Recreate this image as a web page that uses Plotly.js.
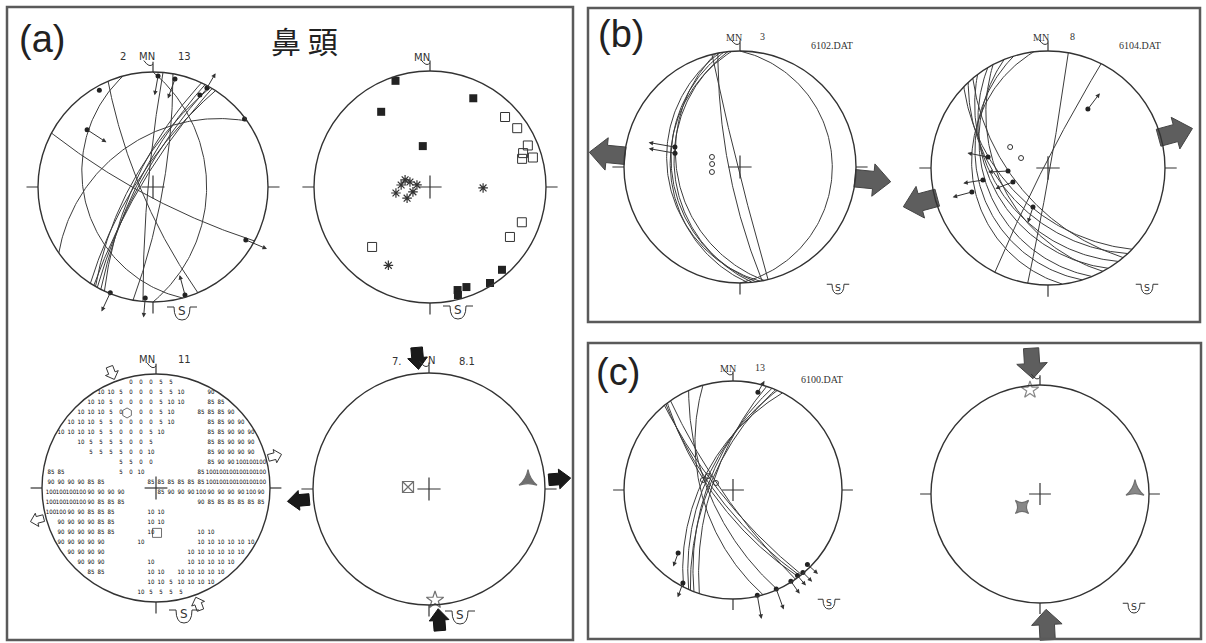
<!DOCTYPE html>
<html><head><meta charset="utf-8">
<script src="https://cdn.plot.ly/plotly-3.0.1.min.js"></script>
<style>html,body{margin:0;padding:0;background:#fff}#chart{width:1206px;height:643px}</style>
</head><body><div id="chart"></div>
<script>
// ================= DATA =================
// (a) top-left: fault planes (strike, right-hand rule) and dips
const a1Strike = [118, 157, 165, 0, 235, 205, 207, 209, 211, 213, 210, 185, 10];
const a1Dip    = [80, 78, 28, 40, 45, 72, 75, 77, 79, 74, 70, 85, 80];
// striae on the planes (trend / plunge) with slip arrows (azimuth, length)
const a1LinTrend  = [331, 2.6, 11.5, 28.6, 27, 53.4, 311, 119.7, 202, 184, 163.5];
const a1LinPlunge = [2.2, 2, 2.4, 1.2, 6.2, 0.5, 15.6, 4.2, 0.5, 1.9, 1.2];
const a1ArrowAz   = [0, 190, 200, 30, 0, 0, 123, 113, 205, 185, 345];
const a1ArrowLen  = [0, 0.17, 0.18, 0.15, 0, 0, 0.2, 0.2, 0.18, 0.17, 0.18];

// (a) top-right: poles
const a2FillTrend  = [342, 26, 327, 350, 165, 160, 165.5, 148, 139];
const a2FillPlunge = [2.2, 9.2, 14.6, 50.6, 4.8, 4.9, 2.2, 1.4, 3.2];
const a2OpenTrend  = [47, 56, 67, 70, 74, 73, 111, 122, 224];
const a2OpenPlunge = [7, 5.6, 5, 9, 4.6, 10.6, 9.4, 11.8, 18.6];
const a2StarTrend  = [286, 284, 279, 254, 244, 260, 274, 91, 208];
const a2StarPlunge = [64.8, 69.8, 77, 72.6, 65.2, 56.8, 62, 40.8, 15.2];

// (a) bottom-left: numeric grid (rows top->bottom, 22 cells, '.' = empty)
const a3Grid = [
 ". . . . . . . . 0 0 0 5 5 . . . . . . . . .",
 ". . . . . 10 10 5 0 0 0 5 5 10 . . 90 . . . . .",
 ". . . . 10 10 5 0 0 0 0 5 10 10 . . 85 85 . . . .",
 ". . . 10 10 10 5 0 . 0 0 5 10 . . 85 85 85 90 . . .",
 ". . 10 10 10 5 5 0 0 0 0 5 10 . . . 85 85 90 90 . .",
 ". 10 10 10 10 5 5 0 0 0 5 10 . . . . 85 85 90 90 90 .",
 ". . . 10 5 5 5 5 0 0 5 . . . . . 85 85 90 90 90 .",
 ". . . . 5 5 5 5 0 0 10 . . . . . 85 90 90 90 90 .",
 ". . . . . . . 5 5 0 0 . . . . . 85 90 90 100 100 100",
 "85 85 . . . . . 5 0 10 . . . . . 85 100 100 100 100 100 100",
 "90 90 90 90 85 85 . . . . 85 85 85 85 85 85 100 100 100 100 100 100",
 "100 100 100 100 90 90 90 90 . . . 85 90 90 90 100 90 90 90 90 100 90",
 "100 100 100 100 90 85 85 85 . . . . . . . 90 85 85 85 85 85 85",
 "100 100 90 90 85 85 85 . . . 10 10 . . . . . . . . . .",
 ". 90 90 90 90 85 85 . . . 10 10 . . . . . . . . . .",
 ". 90 90 90 90 85 85 . . . 10 . . . . 10 10 . . . . .",
 ". 90 90 90 90 90 . . . 10 . . . . . 10 10 10 10 10 10 .",
 ". . 90 90 90 90 . . . . . . . . 10 10 10 10 10 10 . .",
 ". . . 90 90 90 . . . . 10 . . . 10 10 10 10 10 . . .",
 ". . . . 85 85 . . . . 10 10 . 10 10 10 10 10 . . . .",
 ". . . . . . . . . . 10 10 5 10 10 10 10 . . . . .",
 ". . . . . . . . . 10 5 5 5 5 . . . . . . . ."
];
const a3SymTrend  = [338.9, 178.7];
const a3SymPlunge = [19.6, 47];
const a3HollowTrend = [339, 75, 255, 160];
const a3HollowSense = ['in', 'out', 'out', 'in'];

// (a) bottom-right: principal axes and stress arrows
const a4AxisTrend  = [275.4, 84.8, 176.9];
const a4AxisPlunge = [69.4, 8.8, 2.4];
const a4ArrowTrend = [355, 175.6, 85.6, 265];
const a4ArrowSense = ['in', 'in', 'out', 'out'];

// (b) 6102.DAT
const b1Strike = [170, 172, 174, 168, 176, 0, 169, 166];
const b1Dip    = [26, 29, 31, 33, 28, 13, 79, 88];
const b1LinTrend  = [287, 282];
const b1LinPlunge = [29.2, 30.4];
const b1ArrowAz   = [280, 280];
const b1ArrowLen  = [0.23, 0.23];
const b1CircTrend  = [289.7, 276.1, 259.9];
const b1CircPlunge = [61.2, 62.8, 62.4];
const b1StressTrend = [275.6, 95.6];

// (b) 6104.DAT
const b2Strike = [10, 207, 134, 137, 143, 149, 158, 163, 173, 140, 152];
const b2Dip    = [88, 86, 52, 47, 42, 38, 33, 28, 24, 58, 45];
const b2LinTrend  = [265.7, 248.2, 280.4, 259.5, 252.5, 201, 34.1];
const b2LinPlunge = [52.2, 54.2, 35, 31, 21.4, 50.6, 27.4];
const b2ArrowAz   = [267, 249, 281, 261, 255, 198, 37];
const b2ArrowLen  = [0.17, 0.16, 0.18, 0.17, 0.17, 0.14, 0.17];
const b2CircTrend  = [299, 290.3];
const b2CircPlunge = [49.4, 62.4];
const b2StressTrend = [74.7, 255];

// (c) 6100.DAT
const c1Strike = [141, 142, 145, 143, 156, 164, 198, 201, 204, 207, 203];
const c1Dip    = [78, 74, 80, 71, 66, 58, 68, 64, 61, 58, 66];
const c1LinTrend  = [139.7, 147.6, 156.4, 167, 208.3, 221, 14.3, 135, 143];
const c1LinPlunge = [0.5, 0.5, 0.5, 0.5, 1.8, 15, 4.4, 2, 1];
const c1ArrowAz   = [135, 145, 160, 170, 200, 200, 30, 132, 140];
const c1ArrowLen  = [0.12, 0.14, 0.2, 0.22, 0.14, 0.13, 0.12, 0.13, 0.12];
const c1CircTrend  = [299, 292.4, 288.4];
const c1CircPlunge = [60.5, 70.8, 57.6];

// (c) principal axes and compression arrows
const c2AxisTrend  = [354.5, 87.6, 234.2];
const c2AxisPlunge = [2.4, 7.8, 67];
const c2StressTrend = [356.5, 177];

// ================= DRAWING =================
const W = 1206, H = 643, R = 1.42, D2R = Math.PI / 180;
const nets = [
  {cx:153, cy:187, r:115}, {cx:430, cy:187, r:116}, {cx:156, cy:488, r:114}, {cx:429, cy:489, r:116},
  {cx:740, cy:167, r:116}, {cx:1048, cy:168, r:117}, {cx:733, cy:490, r:109}, {cx:1040, cy:494, r:109}
];
const sfx = i => (i === 0 ? '' : String(i + 1));
const INK = '#333333';

function proj(t, p) {
  const rho = Math.tan((90 - p) * D2R / 2);
  return [rho * Math.sin(t * D2R), rho * Math.cos(t * D2R)];
}
function gcTrace(strikes, dips, i) {
  const xs = [], ys = [];
  strikes.forEach((s, k) => {
    const d = dips[k], dd = (s + 90) * D2R;
    const sv = [Math.sin(s * D2R), Math.cos(s * D2R)];
    const dv = [Math.cos(d * D2R) * Math.sin(dd), Math.cos(d * D2R) * Math.cos(dd), Math.sin(d * D2R)];
    for (let j = 0; j <= 120; j++) {
      const a = Math.PI * j / 120;
      const e = Math.cos(a) * sv[0] + Math.sin(a) * dv[0];
      const n = Math.cos(a) * sv[1] + Math.sin(a) * dv[1];
      const z = Math.sin(a) * dv[2];
      const pl = Math.asin(Math.max(-1, Math.min(1, z))) / D2R;
      const tr = Math.atan2(e, n) / D2R;
      const p = proj(tr, pl);
      xs.push(p[0]); ys.push(p[1]);
    }
    xs.push(null); ys.push(null);
  });
  return {type:'scatter', mode:'lines', x:xs, y:ys, xaxis:'x'+sfx(i), yaxis:'y'+sfx(i),
          line:{color:'#3c3c3c', width:1}, hoverinfo:'skip'};
}
function ptsTrace(trends, plunges, i, marker) {
  const xs = [], ys = [];
  trends.forEach((t, k) => { const p = proj(t, plunges[k]); xs.push(p[0]); ys.push(p[1]); });
  return {type:'scatter', mode:'markers', x:xs, y:ys, xaxis:'x'+sfx(i), yaxis:'y'+sfx(i),
          marker:marker, cliponaxis:false, hoverinfo:'skip'};
}
function slipArrows(trends, plunges, az, len, i) {
  const out = [];
  trends.forEach((t, k) => {
    if (!len[k]) return;
    const p = proj(t, plunges[k]);
    out.push({xref:'x'+sfx(i), yref:'y'+sfx(i), axref:'x'+sfx(i), ayref:'y'+sfx(i),
      x:p[0] + len[k] * Math.sin(az[k] * D2R), y:p[1] + len[k] * Math.cos(az[k] * D2R),
      ax:p[0], ay:p[1], text:'', showarrow:true, arrowhead:2, arrowsize:0.9, arrowwidth:1, arrowcolor:INK});
  });
  return out;
}
function blockArrows(trends, senses, i, dist, L, w1, w2, h, fill, line) {
  const xs = [], ys = [];
  trends.forEach((t, k) => {
    const u = [Math.sin(t * D2R), Math.cos(t * D2R)], v = [u[1], -u[0]];
    const s = senses[k] === 'in' ? -1 : 1;
    const pts = [[-L/2,-w1],[L/2-h,-w1],[L/2-h,-w2],[L/2,0],[L/2-h,w2],[L/2-h,w1],[-L/2,w1],[-L/2,-w1]];
    pts.forEach(([a, c]) => {
      xs.push(dist * u[0] + s * a * u[0] + c * v[0]);
      ys.push(dist * u[1] + s * a * u[1] + c * v[1]);
    });
    xs.push(null); ys.push(null);
  });
  return {type:'scatter', mode:'lines', x:xs, y:ys, xaxis:'x'+sfx(i), yaxis:'y'+sfx(i),
          fill:'toself', fillcolor:fill, line:{color:line, width:1}, hoverinfo:'skip'};
}

const traces = [];
const annotations = [];
const shapes = [];
const layout = {width:W, height:H, margin:{l:0,r:0,t:0,b:0}, showlegend:false,
  paper_bgcolor:'#ffffff', plot_bgcolor:'rgba(0,0,0,0)', annotations, shapes};

nets.forEach((n, i) => {
  const s = sfx(i);
  const x0 = Math.max(0, n.cx - R * n.r), x1 = Math.min(W, n.cx + R * n.r);
  const yt = Math.max(0, n.cy - R * n.r), yb = Math.min(H, n.cy + R * n.r);
  layout['xaxis' + s] = {domain:[x0 / W, x1 / W], range:[(x0 - n.cx) / n.r, (x1 - n.cx) / n.r],
    visible:false, fixedrange:true, anchor:'y' + s};
  layout['yaxis' + s] = {domain:[1 - yb / H, 1 - yt / H], range:[(n.cy - yb) / n.r, (n.cy - yt) / n.r],
    visible:false, fixedrange:true, anchor:'x' + s};
  const ref = {xref:'x' + s, yref:'y' + s};
  shapes.push(Object.assign({type:'circle', x0:-1, y0:-1, x1:1, y1:1, line:{color:INK, width:1.4}, fillcolor:'rgba(0,0,0,0)'}, ref));
  const ln = (a, b, c, d) => shapes.push(Object.assign({type:'line', x0:a, y0:b, x1:c, y1:d, line:{color:INK, width:1.2}}, ref));
  ln(-0.1, 0, 0.1, 0); ln(0, -0.1, 0, 0.1);
  ln(1, 0, 1.1, 0); ln(-1.1, 0, -1, 0); ln(0, -1, 0, -1.1); ln(0, 1, 0, 1.09);
  shapes.push(Object.assign({type:'path', path:'M-0.08,1.1 Q-0.03,1.03 0,1.07', line:{color:INK, width:1}}, ref));
});

// great circles
traces.push(gcTrace(a1Strike, a1Dip, 0));
traces.push(gcTrace(b1Strike, b1Dip, 4));
traces.push(gcTrace(b2Strike, b2Dip, 5));
traces.push(gcTrace(c1Strike, c1Dip, 6));

// lineation dots + slip arrows
const dot = {size:5, color:'#222222'};
traces.push(ptsTrace(a1LinTrend, a1LinPlunge, 0, dot));
traces.push(ptsTrace(b1LinTrend, b1LinPlunge, 4, dot));
traces.push(ptsTrace(b2LinTrend, b2LinPlunge, 5, dot));
traces.push(ptsTrace(c1LinTrend, c1LinPlunge, 6, dot));
annotations.push(...slipArrows(a1LinTrend, a1LinPlunge, a1ArrowAz, a1ArrowLen, 0));
annotations.push(...slipArrows(b1LinTrend, b1LinPlunge, b1ArrowAz, b1ArrowLen, 4));
annotations.push(...slipArrows(b2LinTrend, b2LinPlunge, b2ArrowAz, b2ArrowLen, 5));
annotations.push(...slipArrows(c1LinTrend, c1LinPlunge, c1ArrowAz, c1ArrowLen, 6));
const ring = {symbol:'circle-open', size:5, color:INK, line:{width:1, color:INK}};
traces.push(ptsTrace(b1CircTrend, b1CircPlunge, 4, ring));
traces.push(ptsTrace(b2CircTrend, b2CircPlunge, 5, ring));
traces.push(ptsTrace(c1CircTrend, c1CircPlunge, 6, ring));

// a2 poles
traces.push(ptsTrace(a2FillTrend, a2FillPlunge, 1, {symbol:'square', size:8, color:'#222222'}));
traces.push(ptsTrace(a2OpenTrend, a2OpenPlunge, 1, {symbol:'square-open', size:9, color:INK, line:{width:1, color:INK}}));
traces.push(ptsTrace(a2StarTrend, a2StarPlunge, 1, {symbol:'asterisk-open', size:8, color:INK, line:{width:1.2, color:INK}}));

// a3 numeric grid
(function () {
  const n = nets[2], step = 10 / n.r, xs = [], ys = [], tx = [];
  a3Grid.forEach((row, r) => {
    row.split(' ').forEach((tok, c) => {
      if (tok === '.') return;
      xs.push((c - 10.5) * step); ys.push((10.5 - r) * step); tx.push(tok);
    });
  });
  traces.push({type:'scatter', mode:'text', x:xs, y:ys, text:tx, xaxis:'x3', yaxis:'y3',
    marker:{color:'#000000'},
    textfont:{family:'DejaVu Sans Condensed', size:6, color:'#000000'},
    cliponaxis:false, hoverinfo:'skip'});
})();
traces.push(ptsTrace(a3SymTrend, a3SymPlunge, 2, {symbol:['hexagon-open','square-open'], size:[10, 9], color:INK, line:{width:1, color:INK}}));
traces.push(blockArrows(a3HollowTrend, a3HollowSense, 2, 1.08, 0.12, 0.03, 0.06, 0.06, '#ffffff', INK));

// a4 principal axes + arrows
traces.push(ptsTrace(a4AxisTrend, a4AxisPlunge, 3,
  {symbol:['square-x-open','star-triangle-up','star-open'], size:[11, 13, 13], color:INK, line:{width:1.2, color:INK}}));
traces.push(blockArrows(a4ArrowTrend, a4ArrowSense, 3, 1.13, 0.19, 0.05, 0.085, 0.1, '#1a1a1a', '#111111'));

// b / c stress arrows
traces.push(blockArrows(b1StressTrend, ['out','out'], 4, 1.15, 0.31, 0.075, 0.14, 0.15, '#5e5e5e', '#444444'));
traces.push(blockArrows(b2StressTrend, ['out','out'], 5, 1.13, 0.3, 0.075, 0.14, 0.15, '#5e5e5e', '#444444'));
traces.push(blockArrows(c2StressTrend, ['in','in'], 7, 1.2, 0.28, 0.07, 0.14, 0.14, '#5e5e5e', '#444444'));
traces.push(ptsTrace(c2AxisTrend, c2AxisPlunge, 7,
  {symbol:['star-open','star-triangle-up','star-square'], size:[13, 13, 12], color:'#555555', line:{color:INK, width:1.2}}));

// ---------- panel boxes, titles, labels ----------
const px = x => x / W, py = y => 1 - y / H;
[[7, 7, 573, 640], [588, 8, 1200, 322], [588, 343, 1201, 639]].forEach(b =>
  shapes.push({type:'rect', xref:'paper', yref:'paper', x0:px(b[0]), y0:py(b[3]), x1:px(b[2]), y1:py(b[1]),
    line:{color:'#5a5a5a', width:2.5}}));
function lab(text, x, y, size, family, color) {
  annotations.push({xref:'paper', yref:'paper', x:px(x), y:py(y), text, showarrow:false,
    xanchor:'center', yanchor:'middle', font:{size, family, color: color || INK}});
}
lab('(a)', 42, 39, 38, 'Liberation Sans, Arial', '#222222');
lab('(b)', 621, 34, 38, 'Liberation Sans, Arial', '#222222');
lab('(c)', 618, 372, 38, 'Liberation Sans, Arial', '#222222');
lab('鼻 頭', 304, 40, 30, 'Noto Sans CJK TC', '#222222');
const small = 'DejaVu Sans';
lab('2', 123, 57, 10, small); lab('MN', 147, 57, 10, small); lab('13', 184, 57, 10, small);
lab('MN', 422, 58, 10, small);
lab('MN', 147, 359, 10, small); lab('11', 184, 359, 10, small);
lab('7.', 397, 361, 10, small); lab('N', 431, 360, 10, small); lab('8.1', 467, 361, 10, small);
const serif = 'Liberation Serif, Times New Roman';
lab('MN', 734, 37, 10, serif); lab('3', 763, 36, 10, serif); lab('6102.DAT', 832, 46, 10, serif);
lab('MN', 1041, 38, 10, serif); lab('8', 1072, 36, 10, serif); lab('6104.DAT', 1140, 46, 10, serif);
lab('MN', 728, 368, 10, serif); lab('13', 760, 367, 10, serif); lab('6100.DAT', 822, 379, 10, serif);
// "S" (south) symbols
function sSym(x, y, k) {
  lab('S', x, y - 1 * k, 11 * k + 1, 'DejaVu Sans');
  const P = (dx, dy) => px(x + dx * k) + ',' + py(y + dy * k);
  shapes.push({type:'path', xref:'paper', yref:'paper', line:{color:INK, width:1},
    path:'M' + P(-15, -5) + ' L' + P(-8, -5) + ' Q' + P(-8, 8) + ' ' + P(0, 8) +
         ' Q' + P(8, 8) + ' ' + P(8, -5) + ' L' + P(15, -5)});
}
sSym(182, 312, 1); sSym(458, 311, 1); sSym(184, 615, 1); sSym(460, 616, 1);
sSym(838, 288, 0.75); sSym(1147, 288, 0.75); sSym(829, 603, 0.75); sSym(1134, 607, 0.75);

Plotly.newPlot('chart', traces, layout, {staticPlot:true, displayModeBar:false});
</script>
</body></html>
